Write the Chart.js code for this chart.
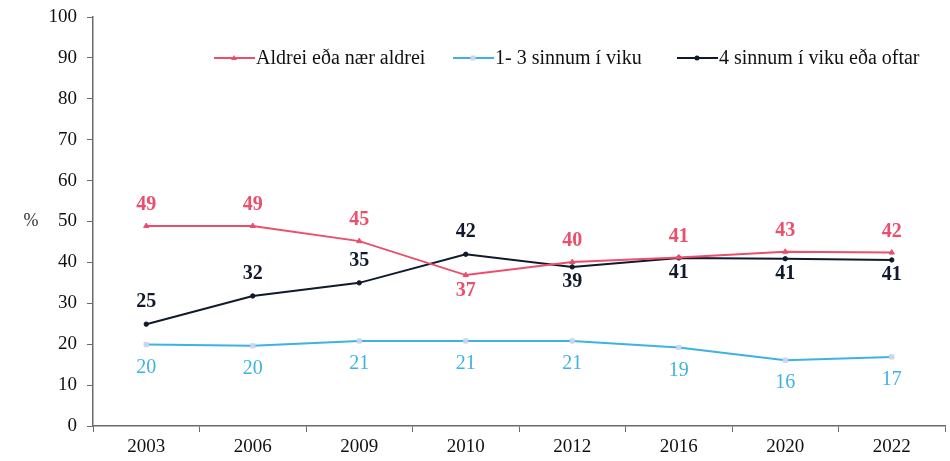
<!DOCTYPE html>
<html>
<head>
<meta charset="utf-8">
<script src="https://cdn.jsdelivr.net/npm/chart.js@4"></script>
<style>
  html, body { margin: 0; padding: 0; background: #fff; }
  #wrap { width: 950px; height: 461px; }
</style>
</head>
<body>
<div id="wrap"><canvas id="c"></canvas></div>
<script>
var years = ['2003', '2006', '2009', '2010', '2012', '2016', '2020', '2022'];
var aldrei = [48.9, 48.9, 45.2, 36.9, 40.1, 41.2, 42.6, 42.4];
var sjaldan = [19.9, 19.6, 20.8, 20.8, 20.8, 19.2, 16.1, 16.9];
var oft = [24.9, 31.8, 35.0, 42.0, 38.9, 41.1, 40.9, 40.6];
var seriesNames = ['Aldrei eða nær aldrei', '1- 3 sinnum í viku', '4 sinnum í viku eða oftar'];
var yTicks = [0, 10, 20, 30, 40, 50, 60, 70, 80, 90, 100];

// where each value label sits: 1 above the point, -1 below it
var aldreiPos = [1, 1, 1, -1, 1, 1, 1, 1];
var sjaldanPos = [-1, -1, -1, -1, -1, -1, -1, -1];
var oftPos = [1, 1, 1, 1, -1, -1, -1, -1];

var pink = '#ea4f6b';
var blue = '#3cb3e2';
var navy = '#101a2c';
var axisCol = '#6b6b6b';
var serif = "'Liberation Serif', 'Times New Roman', serif";

var labelPlugin = {
  id: 'labels',
  afterDatasetsDraw: function(chart) {
    var ctx = chart.ctx;
    var conf = [
      { pos: aldreiPos, color: pink, weight: 'bold', up: 21, down: 16 },
      { pos: sjaldanPos, color: blue, weight: 'normal', up: 22, down: 23 },
      { pos: oftPos, color: navy, weight: 'bold', up: 22, down: 15 }
    ];
    ctx.save();
    ctx.textAlign = 'center';
    ctx.textBaseline = 'middle';
    for (var d = 0; d < chart.data.datasets.length; d++) {
      var meta = chart.getDatasetMeta(d);
      var vals = chart.data.datasets[d].data;
      ctx.fillStyle = conf[d].color;
      ctx.font = conf[d].weight + ' 20px ' + serif;
      for (var i = 0; i < meta.data.length; i++) {
        var p = meta.data[i];
        var dy = conf[d].pos[i] > 0 ? -conf[d].up : conf[d].down;
        ctx.fillText(Math.round(vals[i]), p.x, p.y + dy);
      }
    }

    // % sign beside the y axis
    var ys = chart.scales.y;
    ctx.fillStyle = '#333';
    ctx.font = '18px ' + serif;
    ctx.fillText('%', 31, ys.getPixelForValue(50));

    // legend, drawn by hand so the line runs through the marker
    var items = [
      { x: 214, color: pink, style: 'triangle', mcol: pink },
      { x: 453, color: blue, style: 'rect', mcol: '#c9d6ec' },
      { x: 677, color: navy, style: 'circle', mcol: navy }
    ];
    var ly = 58;
    ctx.textAlign = 'left';
    ctx.font = '20px ' + serif;
    for (var k = 0; k < items.length; k++) {
      var it = items[k];
      ctx.strokeStyle = it.color;
      ctx.lineWidth = 2;
      ctx.beginPath();
      ctx.moveTo(it.x, ly);
      ctx.lineTo(it.x + 41, ly);
      ctx.stroke();
      ctx.fillStyle = it.mcol;
      ctx.beginPath();
      if (it.style === 'circle') {
        ctx.arc(it.x + 20, ly, 2.5, 0, Math.PI * 2);
      } else if (it.style === 'rect') {
        ctx.rect(it.x + 17.5, ly - 2.5, 5, 5);
      } else {
        ctx.moveTo(it.x + 20, ly - 3);
        ctx.lineTo(it.x + 23, ly + 2);
        ctx.lineTo(it.x + 17, ly + 2);
        ctx.closePath();
      }
      ctx.fill();
      ctx.fillStyle = '#111';
      ctx.fillText(seriesNames[k], it.x + 42, ly + 1);
    }
    ctx.restore();
  }
};

new Chart(document.getElementById('c'), {
  type: 'line',
  data: {
    labels: years,
    datasets: [
      {
        label: seriesNames[0], data: aldrei,
        borderColor: pink, backgroundColor: pink, borderWidth: 2,
        pointStyle: 'triangle', pointRadius: 3, pointBorderWidth: 1
      },
      {
        label: seriesNames[1], data: sjaldan,
        borderColor: blue, backgroundColor: '#c9d6ec', pointBorderColor: '#c9d6ec', borderWidth: 2,
        pointStyle: 'rect', pointRadius: 3, pointBorderWidth: 1
      },
      {
        label: seriesNames[2], data: oft,
        borderColor: navy, backgroundColor: navy, borderWidth: 2,
        pointStyle: 'circle', pointRadius: 2.2, pointBorderWidth: 1
      }
    ]
  },
  options: {
    responsive: true,
    maintainAspectRatio: false,
    animation: false,
    layout: { padding: { top: 17, right: 0, left: 0, bottom: 0 } },
    plugins: { legend: { display: false }, tooltip: { enabled: false } },
    scales: {
      x: {
        offset: true,
        grid: { display: true, drawOnChartArea: false, offset: true, color: axisCol, tickLength: 6 },
        border: { color: axisCol, width: 1.5 },
        ticks: { color: '#111', font: { family: serif, size: 19 }, padding: 4, maxRotation: 0 },
        afterFit: function(s) { s.height = 35; s.paddingLeft = 0; s.paddingRight = 0; }
      },
      y: {
        min: 0, max: 100,
        afterBuildTicks: function(s) { s.ticks = yTicks.map(function(v) { return { value: v }; }); },
        grid: { display: true, drawOnChartArea: false, color: axisCol, tickLength: 6 },
        border: { color: axisCol, width: 1.5 },
        ticks: { color: '#111', font: { family: serif, size: 19 }, padding: 10 },
        afterFit: function(s) { s.width = 93; s.paddingTop = 0; s.paddingBottom = 0; }
      }
    }
  },
  plugins: [labelPlugin]
});
</script>
</body>
</html>
